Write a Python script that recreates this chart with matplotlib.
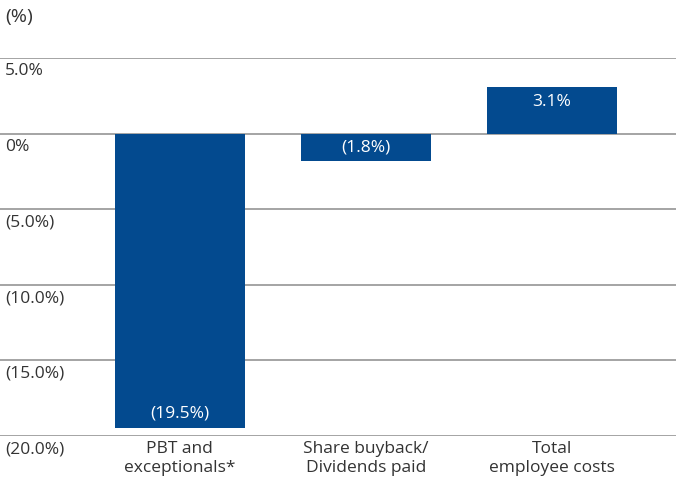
import matplotlib.pyplot as plt
from matplotlib.transforms import blended_transform_factory

categories = ["PBT and\nexceptionals*", "Share buyback/\nDividends paid", "Total\nemployee costs"]
values = [-19.5, -1.8, 3.1]
value_labels = ["(19.5%)", "(1.8%)", "3.1%"]
yticks = [5, 0, -5, -10, -15, -20]
ytick_labels = ["5.0%", "0%", "(5.0%)", "(10.0%)", "(15.0%)", "(20.0%)"]

bar_color = "#034a8f"
text_color = "#333333"
fs = 12.5
plt.rcParams["font.family"] = ["Open Sans", "DejaVu Sans"]

fig = plt.figure(figsize=(6.76, 4.78), dpi=100)
ax = fig.add_axes([0, 1 - 436 / 478, 1, (436 - 58) / 478])
ax.set_xlim(-0.966, 2.666)
ax.set_ylim(-20, 5)
for s in ax.spines.values():
    s.set_visible(False)
ax.set_xticks([])
ax.set_yticks([])

for y in yticks:
    ax.axhline(y, color="#8c8c8c", lw=1.1, zorder=1)

x = range(len(values))
ax.bar(x, values, width=0.70, color=bar_color, zorder=2)

# value labels inside the bars
for i, (v, lab) in enumerate(zip(values, value_labels)):
    if v > 0:
        ypos, va = v - 0.45, "top"
    elif v > -3:
        ypos, va = v / 2, "center"
    else:
        ypos, va = v + 0.45, "bottom"
    ax.text(i, ypos, lab, color="white", ha="center", va=va, fontsize=fs, zorder=3)

trans = blended_transform_factory(fig.transFigure, ax.transData)
for y, lab in zip(yticks, ytick_labels):
    ax.text(5 / 676, y - 0.35, lab, transform=trans, ha="left", va="top",
            fontsize=fs, color=text_color)

for i, lab in enumerate(categories):
    ax.text(i, -20.3, lab, ha="center", va="top", fontsize=fs,
            color=text_color, linespacing=1.25)

fig.text(5 / 676, 1 - 8 / 478, "(%)", ha="left", va="top", fontsize=14, color=text_color)

fig.savefig("out.png", dpi=100)
